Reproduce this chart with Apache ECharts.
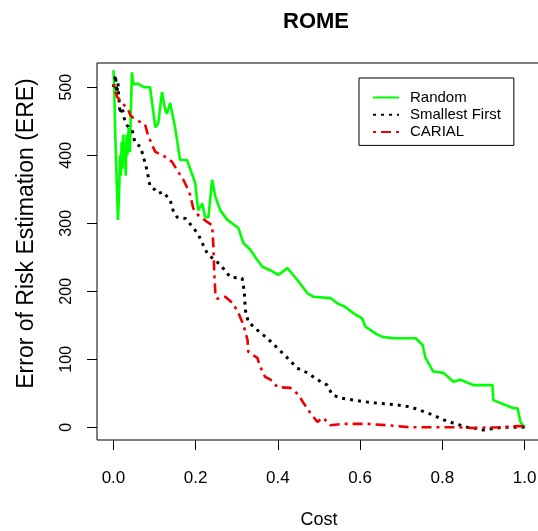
<!DOCTYPE html>
<html>
<head>
<meta charset="utf-8">
<script src="https://cdn.jsdelivr.net/npm/echarts@6.0.0/dist/echarts.min.js"></script>
<style>
html,body{margin:0;padding:0;background:#fff;}
#chart{width:538px;height:531px;}
</style>
</head>
<body>
<div id="chart"></div>
<script>
// ---- data ----
const chartTitle = 'ROME';
const seriesNames = ['Random', 'Smallest First', 'CARIAL'];
const xTicks = [0, 0.2, 0.4, 0.6, 0.8, 1.0];
const yTicks = [0, 100, 200, 300, 400, 500];

const randomData = [[0.000,525],[0.002,500],[0.004,440],[0.008,360],[0.011,305],[0.014,350],[0.016,400],[0.018,370],[0.020,420],[0.022,380],[0.024,430],[0.026,390],[0.028,415],[0.030,370],[0.032,430],[0.034,400],[0.037,440],[0.040,405],[0.043,480],[0.045,522],[0.048,505],[0.060,505],[0.075,500],[0.089,500],[0.094,477],[0.102,441],[0.109,447],[0.118,493],[0.126,467],[0.130,461],[0.138,477],[0.150,441],[0.162,393],[0.179,393],[0.199,359],[0.206,319],[0.216,329],[0.223,309],[0.231,309],[0.240,364],[0.248,339],[0.260,319],[0.277,305],[0.304,293],[0.316,271],[0.333,261],[0.350,246],[0.362,236],[0.381,231],[0.401,224],[0.423,234],[0.447,217],[0.472,197],[0.486,192],[0.528,190],[0.545,182],[0.564,177],[0.583,168],[0.605,160],[0.613,148],[0.637,138],[0.654,133],[0.681,131],[0.735,131],[0.752,121],[0.759,102],[0.778,82],[0.803,80],[0.827,67],[0.844,70],[0.876,62],[0.922,62],[0.924,40],[0.973,28],[0.983,28],[0.990,8],[1.000,0]];

const smallestFirstData = [[0.000,500],[0.005,518],[0.008,492],[0.011,506],[0.013,486],[0.016,461],[0.021,471],[0.028,449],[0.033,444],[0.046,437],[0.048,429],[0.053,418],[0.065,413],[0.072,400],[0.082,377],[0.089,354],[0.102,349],[0.109,344],[0.121,346],[0.138,334],[0.145,319],[0.155,309],[0.175,307],[0.192,295],[0.206,284],[0.216,271],[0.228,256],[0.240,249],[0.260,239],[0.284,221],[0.313,219],[0.318,201],[0.321,172],[0.328,155],[0.350,143],[0.374,131],[0.398,117],[0.423,102],[0.447,87],[0.472,80],[0.496,70],[0.520,62],[0.532,48],[0.552,43],[0.584,40],[0.618,37],[0.649,35],[0.690,33],[0.722,30],[0.746,25],[0.778,18],[0.803,11],[0.827,6],[0.861,0],[0.876,-1],[0.900,-4],[0.934,-1],[0.949,0],[1.000,0]];

const carialData = [[0.000,505],[0.004,495],[0.009,486],[0.021,477],[0.036,467],[0.041,459],[0.048,455],[0.065,449],[0.077,445],[0.084,430],[0.094,415],[0.102,405],[0.119,400],[0.131,396],[0.143,390],[0.155,378],[0.170,364],[0.182,349],[0.187,341],[0.194,322],[0.206,312],[0.228,302],[0.240,297],[0.243,268],[0.245,231],[0.248,195],[0.252,189],[0.272,192],[0.291,182],[0.304,168],[0.316,151],[0.326,129],[0.328,111],[0.340,106],[0.350,102],[0.357,89],[0.369,74],[0.382,70],[0.399,59],[0.430,58],[0.450,48],[0.462,36],[0.479,21],[0.496,8],[0.510,14],[0.528,3],[0.559,5],[0.618,5],[0.666,3],[0.722,0],[0.837,0],[0.876,-1],[0.941,0],[0.990,2],[1.000,1]];

// ---- chart ----
const FONT = '"Liberation Sans", Arial, sans-serif';
const chart = echarts.init(document.getElementById('chart'), null, {renderer: 'canvas'});

chart.setOption({
  backgroundColor: '#fff',
  animation: false,
  title: {
    text: chartTitle,
    left: 283, top: 11, padding: 0,
    textStyle: {fontFamily: FONT, fontSize: 22, fontWeight: 'bold', color: '#000'}
  },
  legend: {
    orient: 'vertical',
    left: 359, top: 78,
    padding: [12, 13, 6, 13],
    itemWidth: 26, itemHeight: 14, itemGap: 2.2,
    borderColor: '#000', borderWidth: 1, backgroundColor: '#fff',
    itemStyle: {opacity: 0, borderWidth: 0},
    textStyle: {fontFamily: FONT, fontSize: 15, color: '#000', padding: [0, 0, 0, 6]},
    data: seriesNames
  },
  grid: {
    left: 97, top: 63, width: 444, height: 377,
    show: true, borderColor: '#000', borderWidth: 1,
    containLabel: false, outerBoundsMode: 'none'
  },
  xAxis: {
    type: 'value', min: -0.04, max: 1.04,
    name: 'Cost', nameLocation: 'middle', nameGap: 71,
    nameTextStyle: {fontFamily: FONT, fontSize: 18, color: '#000'},
    axisLine: {show: false, onZero: false},
    axisTick: {show: true, inside: false, length: 10, customValues: xTicks, lineStyle: {color: '#000'}},
    axisLabel: {customValues: xTicks, margin: 30, fontFamily: FONT, fontSize: 17, color: '#000',
      formatter: v => Number(v).toFixed(1)},
    splitLine: {show: false}
  },
  yAxis: {
    type: 'value', min: -18.7, max: 535.7,
    name: 'Error of Risk Estimation (ERE)', nameLocation: 'middle', nameGap: 59,
    nameTextStyle: {fontFamily: FONT, fontSize: 23, color: '#000', padding: [0, 0, 0, 36]},
    axisLine: {show: false, onZero: false},
    axisTick: {show: true, inside: false, length: 10, customValues: yTicks, lineStyle: {color: '#000'}},
    axisLabel: {customValues: yTicks, rotate: 90, margin: 22, fontFamily: FONT, fontSize: 16, color: '#000'},
    splitLine: {show: false}
  },
  series: [
    {name: seriesNames[0], type: 'line', data: randomData, symbol: 'none', showSymbol: false,
      lineStyle: {color: '#00ff00', width: 2.6, type: 'solid'}, itemStyle: {color: '#00ff00'}},
    {name: seriesNames[1], type: 'line', data: smallestFirstData, symbol: 'none', showSymbol: false,
      lineStyle: {color: '#000', width: 3, type: [3, 5]}, itemStyle: {color: '#000'}},
    {name: seriesNames[2], type: 'line', data: carialData, symbol: 'none', showSymbol: false,
      lineStyle: {color: '#ee0000', width: 2.6, type: [3, 5, 10, 5]}, itemStyle: {color: '#ee0000'}}
  ]
});
</script>
</body>
</html>
